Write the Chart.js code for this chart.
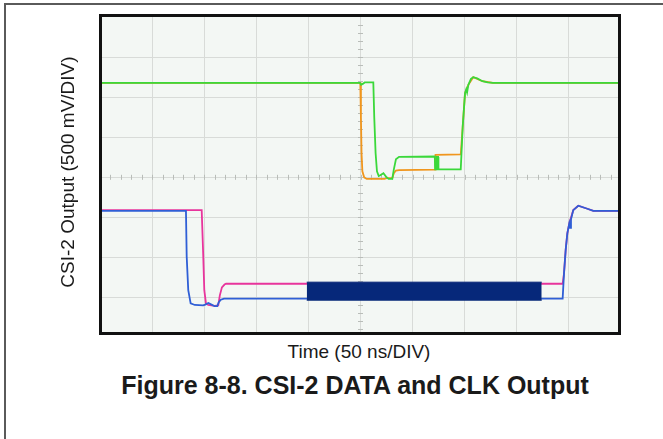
<!DOCTYPE html>
<html>
<head>
<meta charset="utf-8">
<script src="https://cdn.jsdelivr.net/npm/chart.js@4.4.1/dist/chart.umd.min.js"></script>
<style>
  body { margin: 0; background: #fff; width: 663px; height: 439px; overflow: hidden; position: relative;
         font-family: "Liberation Sans", Arial, sans-serif; color: #1a1a1a; }
  #frame { position: absolute; left: 4px; top: 3px; width: 700px; height: 500px;
           border-top: 2px solid #5a5a5a; border-left: 2px solid #5a5a5a; }
  #plot { position: absolute; left: 100px; top: 14px; background: #f3f7f4; }
  #box { position: absolute; left: 99px; top: 14px; width: 522px; height: 321px;
         box-sizing: border-box; border: 3px solid #111; pointer-events: none; }
  .lbl { position: absolute; white-space: nowrap; transform: translate(-50%, -50%); }
  #ytitle { left: 68px; top: 172px; font-size: 19px; transform: translate(-50%, -50%) rotate(-90deg); }
  #xtitle { left: 359px; top: 352px; font-size: 19px; }
  #caption { left: 355px; top: 385px; font-size: 25px; font-weight: bold; }
</style>
</head>
<body>
<div id="frame"></div>
<canvas id="plot" width="521" height="321"></canvas>
<div id="box"></div>
<div class="lbl" id="ytitle">CSI-2 Output (500 mV/DIV)</div>
<div class="lbl" id="xtitle">Time (50 ns/DIV)</div>
<div class="lbl" id="caption">Figure 8-8. CSI-2 DATA and CLK Output</div>
<script>
// scope traces: [time (ns), level (divisions from bottom)]
const dataP = [
  [0, 6.36], [249.5, 6.36], [250.5, 6.31], [252.5, 6.34], [254, 6.37], [262.3, 6.37],
  [263.2, 5.5], [264.5, 4.6], [265.8, 4.15], [267.5, 4.03], [269, 4.05], [272, 4.1],
  [275, 4.0], [277, 3.96], [280.5, 3.96], [282, 4.2], [284, 4.45], [287, 4.51],
  [321.3, 4.52], [321.6, 4.2], [323, 4.2], [323.2, 4.51], [324.5, 4.51], [324.8, 4.2],
  [346.2, 4.2], [348.1, 5.27], [350.3, 6.1], [351.5, 6.2], [352.3, 6.12], [353.5, 6.31],
  [356, 6.46], [358.2, 6.5], [362, 6.47], [367, 6.4], [372, 6.37], [377, 6.36], [500, 6.36]
];
const dataN = [
  [0, 6.36], [249.8, 6.36], [250.4, 5.5], [251, 4.6], [251.8, 4.15], [253.5, 4.0],
  [256, 3.96], [273, 3.96], [275, 3.98], [280.5, 3.98], [282, 4.1], [284, 4.17],
  [287, 4.18], [321.5, 4.19], [322, 4.56], [346.2, 4.57], [348.1, 5.27], [350.3, 6.1],
  [353.5, 6.31], [358.2, 6.5], [367, 6.4], [377, 6.36], [500, 6.36]
];
const clkP = [
  [0, 3.16], [82.5, 3.16], [83.2, 2.02], [84.7, 1.18], [87, 0.85], [91, 0.81],
  [99, 0.8], [101, 0.82], [104, 0.86], [107, 0.82], [110, 0.78], [112.5, 0.78],
  [114, 0.88], [116, 0.94], [119, 0.97], [444, 0.97], [445.3, 1.6], [446.9, 2.18],
  [448.5, 2.6], [450.4, 2.85], [451.2, 2.74], [452, 2.95], [454.2, 3.18], [459, 3.29],
  [467, 3.22], [473.4, 3.16], [500, 3.16]
];
const clkN = [
  [0, 3.18], [97.6, 3.18], [99.1, 2.02], [100.1, 1.18], [101.7, 0.85], [103.9, 0.81],
  [110, 0.79], [113.5, 0.8], [115, 1.05], [117, 1.25], [119.5, 1.32], [121, 1.34],
  [444, 1.34], [445.3, 1.6], [446.9, 2.18], [448.5, 2.6], [450.4, 2.85], [454.2, 3.18],
  [459, 3.29], [467, 3.22], [473.4, 3.16], [500, 3.16]
];
// high-speed clock burst envelope
const burstHigh = [[198.4, 1.38], [423.9, 1.38]];
const burstLow = [[198.4, 0.93], [423.9, 0.93]];

// graticule
const timeGrid = [50, 100, 150, 200, 250, 300, 350, 400, 450];
const levelGrid = [1, 2, 3, 4, 5, 6, 7];

const pts = arr => arr.map(p => ({ x: p[0], y: p[1] }));

function trace(data, color) {
  return { data: pts(data), borderColor: color, borderWidth: 1.8, pointRadius: 0, tension: 0, fill: false };
}

// small division marks along the centre cross of the graticule
const centreMarks = {
  id: 'centreMarks',
  beforeDatasetsDraw(chart) {
    const { ctx, scales: { x, y } } = chart;
    const cx = x.getPixelForValue(250), cy = y.getPixelForValue(4);
    ctx.save();
    ctx.strokeStyle = '#b9bdb9';
    ctx.lineWidth = 1;
    ctx.beginPath();
    for (let t = 0; t <= 500; t += 10) {
      const px = Math.round(x.getPixelForValue(t)) + 0.5;
      ctx.moveTo(px, cy - 2.5); ctx.lineTo(px, cy + 2.5);
    }
    for (let v = 0; v <= 8; v += 0.2) {
      const py = Math.round(y.getPixelForValue(v)) + 0.5;
      ctx.moveTo(cx - 2.5, py); ctx.lineTo(cx + 2.5, py);
    }
    ctx.stroke();
    ctx.restore();
  }
};

new Chart(document.getElementById('plot'), {
  type: 'line',
  data: {
    datasets: [
      { data: pts(burstHigh), borderColor: '#06287a', backgroundColor: '#06287a', borderWidth: 1, pointRadius: 0, fill: '+1' },
      { data: pts(burstLow), borderColor: '#06287a', borderWidth: 1, pointRadius: 0, fill: false },
      trace(dataP, '#3ad83a'),
      trace(dataN, '#f0961e'),
      trace(clkP, '#2f5fd6'),
      trace(clkN, '#e8349c')
    ]
  },
  options: {
    responsive: false,
    animation: false,
    layout: { padding: 0 },
    plugins: { legend: { display: false }, tooltip: { enabled: false } },
    scales: {
      x: {
        type: 'linear', min: 0, max: 500,
        afterBuildTicks: s => { s.ticks = timeGrid.map(v => ({ value: v })); },
        ticks: { display: false },
        grid: { color: '#d8dbd8', lineWidth: 1, drawTicks: false },
        border: { display: false }
      },
      y: {
        type: 'linear', min: 0.06, max: 8.08,
        afterBuildTicks: s => { s.ticks = levelGrid.map(v => ({ value: v })); },
        ticks: { display: false },
        grid: { color: '#d8dbd8', lineWidth: 1, drawTicks: false },
        border: { display: false }
      }
    }
  },
  plugins: [centreMarks]
});
</script>
</body>
</html>
